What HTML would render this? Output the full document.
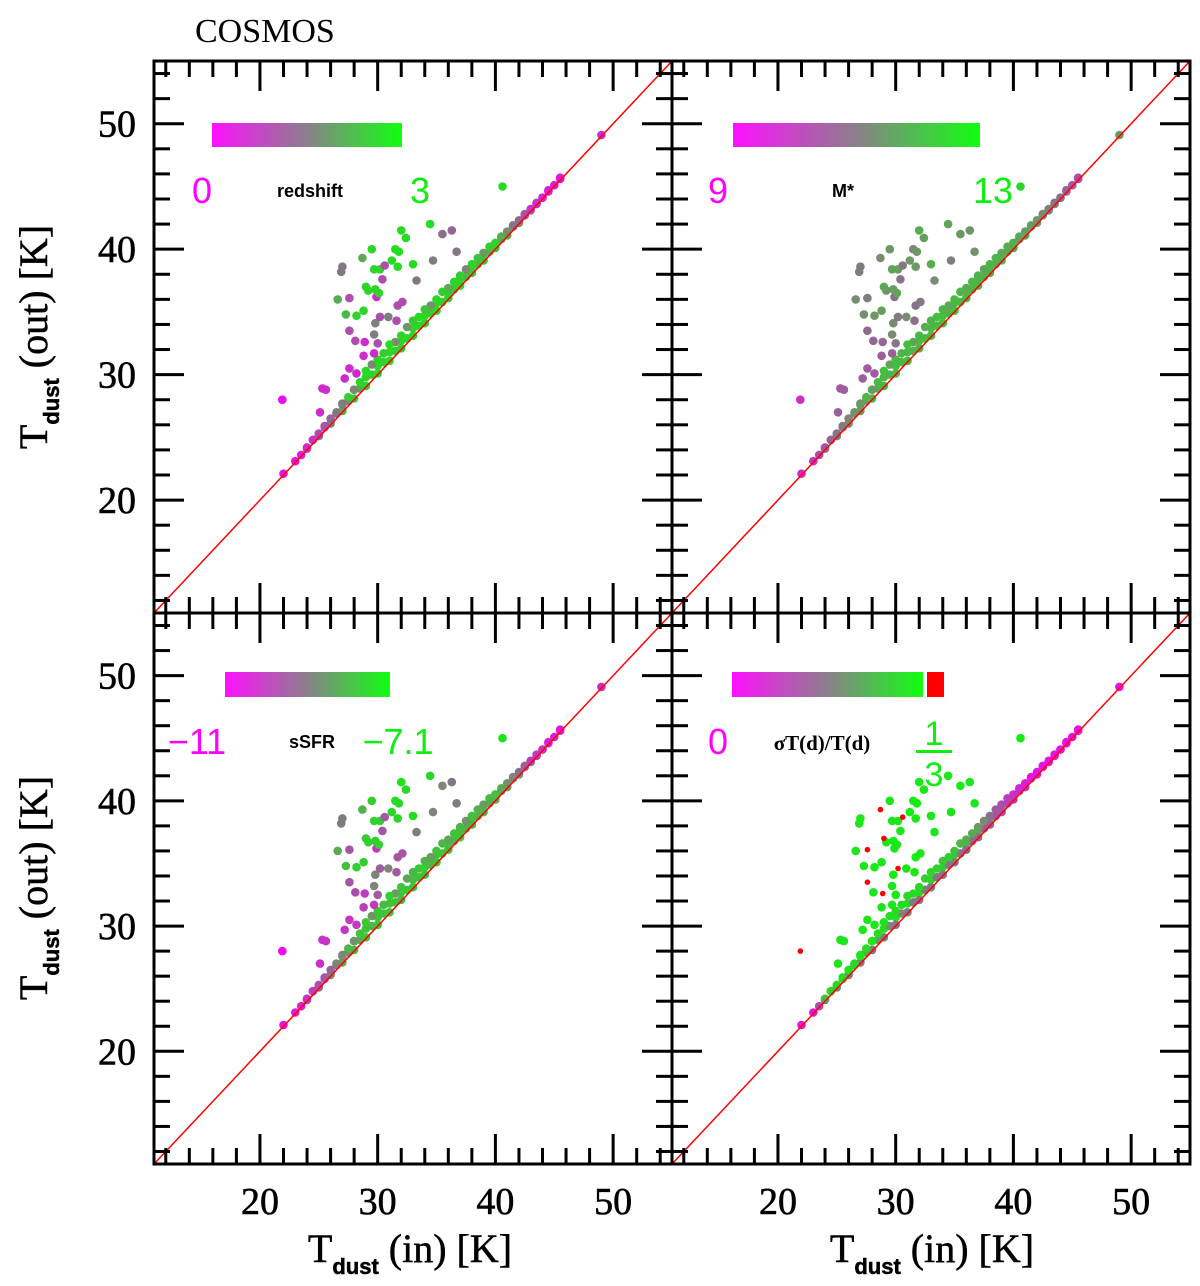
<!DOCTYPE html>
<html><head><meta charset="utf-8"><style>
html,body{margin:0;padding:0;background:#fff;width:1200px;height:1286px;overflow:hidden}
svg{display:block}
</style></head><body>
<svg id="fig" width="1200" height="1286" viewBox="0 0 1200 1286" xmlns="http://www.w3.org/2000/svg">
<text x="195" y="42" font-family="Liberation Serif, serif" font-size="34" fill="#000">COSMOS</text>
<g id="marks"></g>
<g id="axes"></g>
<g id="labels"></g>
</svg>
<script>
// ---- data (T_dust in, T_dust out) ----
const tin  = [40.6,34.45,35.5,36.3,32.0,32.4,29.5,31.5,31.8,28.7,27.0,26.9,36.7,34.7,31.2,30.6,29.7,30.2,31.7,33.0,30.4,33.3,29.0,29.2,29.8,30.1,29.9,26.6,27.6,32.1,31.7,28.8,27.3,28.2,30.2,30.9,31.6,29.8,27.6,29.7,28.1,28.9,30.0,29.7,28.8,27.6,28.2,27.2,25.3,25.6,25.1,21.9,
 22,23,23.5,24,24.5,25,25.5,26,26.5,27,27.5,28,28.5,29,29.5,30,30.5,31,31.5,32,32.5,33,33.5,34,34.5,35,35.5,36,36.5,37,37.5,38,38.5,39,39.5,40,40.5,41,41.5,42,42.5,43,43.5,44,44.5,45,45.5,49,
 24,25,26,27,28,29,30,31,32,33,34,35,36,37,38,39,40,41,42,43,44,
 24.5,25.5,26.5,27.5,28.5,29.5,30.5,31.5,32.5,33.5,34.5,35.5,36.5,37.5,38.5,39.5,40.5,41.5,42.5,43.5,44.5,45.5,
 27,28,29,30,31,32,33,34,35,36,37,38,39,40];
const tout = [45.0,42.0,41.2,41.5,41.5,40.9,40.0,40.0,39.8,39.3,38.6,38.2,39.8,39.1,39.1,38.7,38.4,38.4,38.6,38.8,37.6,37.5,37.0,36.7,36.8,36.5,36.2,36.0,36.1,35.8,35.5,35.1,34.8,34.7,34.6,34.6,34.3,34.1,33.5,33.2,32.7,32.6,32.5,31.7,31.5,30.5,30.1,29.7,28.9,28.8,27.0,28.0,
 22.1,23.1,23.6,24.2,24.8,25.3,25.9,26.5,27,27.6,28.2,28.8,29.4,30.3,30.8,31.2,31.7,32.4,32.6,33.1,33.8,34.3,34.6,35.2,35.5,36.0,36.6,36.9,37.4,37.9,38.4,38.8,39.3,39.7,40.2,40.5,41.0,41.4,41.9,42.3,42.7,43.2,43.6,44.1,44.6,45.1,45.6,49.1,
 24.1,25.1,26.1,27.1,28.1,29.1,30.1,31.1,32.1,33.1,34.1,35.1,36.1,37.1,38.1,39.1,40.1,41.1,42.1,43.1,44.1,
 24.8,25.8,26.9,27.9,28.9,30.0,31.0,31.9,32.9,33.9,34.9,35.8,36.8,37.8,38.8,39.8,40.8,41.8,42.8,43.7,44.7,45.7,
 27.7,28.8,29.8,30.7,31.8,32.7,33.7,34.7,35.7,36.6,37.6,38.6,39.6,40.5];
const redshift = [2.6,2.6,1.3,1.2,2.6,2.6,2.5,2.6,2.6,2.0,1.4,1.4,1.4,1.5,2.6,0.9,2.5,2.5,2.6,2.6,0.9,1.4,2.5,2.5,2.5,2.5,0.5,2.0,0.9,0.9,0.9,2.5,2.2,2.5,0.9,1.5,0.9,1.5,0.9,1.5,0.9,0.5,0.9,0.5,0.5,0.5,0.5,0.5,0.5,0.5,0.5,0.1,
 0.2,0.2,0.3,0.5,0.6,0.8,1.0,1.2,1.4,1.5,2.4,1.6,2.5,2.6,1.6,2.5,2.4,2.6,1.6,2.5,1.8,2.4,2.6,2.3,1.7,2.5,2.4,2.0,2.5,2.4,1.6,2.5,2.3,1.8,2.4,2.5,2.0,1.6,1.4,1.2,0.9,0.6,0.5,0.4,0.3,0.3,0.2,0.5,
 0.9,1.2,1.5,2.0,2.4,2.5,2.5,2.6,2.4,2.5,2.5,2.6,2.5,2.5,2.4,2.4,2.3,2.0,1.6,1.2,1.0,
 0.5,0.8,1.2,1.5,2.0,2.4,2.5,2.5,2.6,2.5,2.4,2.5,2.4,2.3,2.2,2.0,1.8,1.5,1.2,0.9,0.6,0.4,
 1.5,2.2,2.5,2.6,2.5,2.6,2.5,2.6,2.5,2.4,2.5,2.4,2.3,2.2];
const mass = [12.3,11.6,11.4,11.3,11.7,11.5,11.4,11.2,11.5,11.2,11.0,11.0,11.3,11.0,11.4,10.9,11.6,11.5,11.4,11.7,10.8,11.2,11.6,11.3,11.5,11.6,10.7,11.2,10.9,10.9,10.8,11.5,11.3,11.4,10.9,11.2,10.8,11.2,10.7,11.2,10.6,10.6,10.8,10.5,10.5,10.4,10.4,10.5,10.4,10.4,10.5,9.7,
 9.6,9.8,10.2,10.4,10.6,10.8,11.0,11.1,11.3,11.4,11.8,11.5,11.9,12.0,11.6,11.9,11.8,12.0,11.6,11.9,11.7,11.8,12.0,11.8,11.6,12.0,11.8,11.7,11.9,11.8,11.6,11.9,11.8,11.6,11.7,11.8,11.6,11.5,11.4,11.3,11.2,11.0,10.9,10.7,10.5,10.4,10.2,11.4,
 10.8,11.0,11.2,11.4,11.8,11.9,11.9,12.0,11.8,11.9,12.0,12.0,11.9,11.9,11.8,11.8,11.7,11.6,11.4,11.2,11.0,
 10.5,10.8,11.0,11.3,11.6,11.8,11.9,11.9,12.0,11.9,11.8,11.9,11.8,11.7,11.6,11.5,11.3,11.1,10.9,10.7,10.5,10.3,
 11.4,11.7,11.9,12.0,11.9,12.0,11.9,12.0,11.8,11.8,11.9,11.7,11.6,11.6];
const ssfr = [-7.5,-7.7,-9.0,-9.2,-7.6,-7.7,-7.8,-7.6,-7.7,-8.3,-9.1,-9.1,-9.1,-9.0,-7.7,-9.7,-7.8,-7.8,-7.7,-7.6,-9.7,-9.1,-7.9,-7.8,-7.8,-7.8,-10.2,-8.4,-9.7,-9.7,-9.6,-7.9,-8.1,-7.8,-9.6,-9.0,-9.6,-9.0,-9.7,-9.0,-9.8,-10.1,-9.6,-10.1,-10.0,-10.2,-10.1,-10.2,-10.2,-10.2,-10.3,-10.9,
 -10.8,-10.6,-10.5,-10.2,-10.1,-9.9,-9.6,-9.4,-9.0,-8.9,-8.2,-8.7,-8.0,-7.9,-8.7,-8.0,-8.2,-7.8,-8.6,-8.0,-8.5,-8.2,-7.9,-8.3,-8.6,-8.0,-8.2,-8.5,-8.0,-8.2,-8.7,-8.0,-8.3,-8.6,-8.2,-8.0,-8.4,-8.8,-9.0,-9.3,-9.6,-10.1,-10.2,-10.3,-10.5,-10.5,-10.7,-10.3,
 -9.7,-9.4,-9.0,-8.5,-8.2,-8.0,-8.0,-7.9,-8.2,-8.0,-8.0,-7.9,-8.0,-8.0,-8.2,-8.2,-8.3,-8.6,-8.8,-9.2,-9.5,
 -10.3,-10.0,-9.5,-9.0,-8.5,-8.2,-8.0,-8.0,-7.9,-8.0,-8.2,-8.0,-8.2,-8.3,-8.4,-8.5,-8.8,-9.0,-9.4,-9.7,-10.2,-10.5,
 -9.0,-8.3,-8.0,-7.9,-8.0,-7.9,-8.0,-7.8,-8.0,-8.2,-8.0,-8.2,-8.3,-8.4];
const sigma = [0.31,0.30,0.31,0.30,0.31,0.30,0.30,0.31,0.31,0.34,0.30,0.30,0.30,0.30,0.31,0.34,0.30,0.30,0.31,0.30,0.30,0.30,0.34,0.30,0.31,0.30,0.30,0.30,0.34,0.30,0.31,0.30,0.30,0.31,0.34,0.30,0.30,0.31,0.34,0.30,0.30,0.34,0.31,0.30,0.30,0.30,0.30,0.31,0.30,0.30,0.30,0.40,
 0.02,0.03,0.10,0.25,0.28,0.29,0.29,0.30,0.29,0.30,0.29,0.30,0.29,0.30,0.29,0.28,0.29,0.28,0.29,0.28,0.27,0.28,0.27,0.26,0.27,0.25,0.24,0.22,0.22,0.20,0.18,0.15,0.12,0.10,0.08,0.06,0.05,0.04,0.03,0.03,0.02,0.02,0.02,0.02,0.02,0.02,0.02,0.02,
 0.14,0.15,0.16,0.15,0.15,0.16,0.15,0.16,0.15,0.16,0.15,0.16,0.14,0.13,0.12,0.10,0.08,0.06,0.05,0.04,0.03,
 0.20,0.22,0.22,0.20,0.20,0.18,0.17,0.16,0.16,0.15,0.15,0.14,0.13,0.12,0.10,0.08,0.06,0.05,0.04,0.03,0.02,0.02,
 0.30,0.30,0.29,0.30,0.29,0.29,0.28,0.28,0.27,0.26,0.25,0.24,0.22,0.20];
const xTicks = [20,30,40,50];
const yTicks = [20,30,40,50];

// ---- geometry ----
const TMIN=11, TMAX=55;
const panels = [
 {name:'redshift', x0:154, x1:672, y0:61, y1:613, vals:redshift, lo:0, hi:3, lx:false},
 {name:'stellar-mass', x0:672, x1:1190, y0:61, y1:613, vals:mass, lo:9, hi:13, lx:false},
 {name:'ssfr', x0:154, x1:672, y0:613, y1:1164, vals:ssfr, lo:-11, hi:-7.1, lx:true},
 {name:'sigma-tdust', x0:672, x1:1190, y0:613, y1:1164, vals:sigma, lo:0, hi:1/3, lx:true, red:true}
];
function sx(p,t){return p.x0+(t-TMIN)/(TMAX-TMIN)*(p.x1-p.x0);}
function sy(p,t){return p.y1-(t-TMIN)/(TMAX-TMIN)*(p.y1-p.y0);}
function cmap(f){f=Math.max(0,Math.min(1,f));const r=Math.round(255*(1-f)*0.97+ (f>0.5?20*(1-f):0)),g=Math.round(255*f),b=Math.round(255*(1-f)*0.97);return `rgb(${r},${g},${b})`;}
const NS='http://www.w3.org/2000/svg';
function el(tag,attrs,parent){const e=document.createElementNS(NS,tag);for(const k in attrs)e.setAttribute(k,attrs[k]);parent.appendChild(e);return e;}
const marks=document.getElementById('marks'), axes=document.getElementById('axes'), labels=document.getElementById('labels');

panels.forEach((p,pi)=>{
  const g=el('g',{},marks);
  
  
  const order=[];for(let i=tin.length-1;i>=0;i--)order.push(i);
  order.forEach(i=>{
    const v=p.vals[i];let col,r=4.3;
    if(p.red && v>p.hi){col='#f00';r=2.8;} else col=cmap((v-p.lo)/(p.hi-p.lo));
    const c=el('circle',{cx:sx(p,tin[i]).toFixed(1),cy:sy(p,tout[i]).toFixed(1),r:r,fill:col},g);
    
    
  });
  const ln=el('line',{x1:sx(p,TMIN),y1:sy(p,TMIN),x2:sx(p,TMAX),y2:sy(p,TMAX),stroke:'#f00','stroke-width':1.5},marks);
  
  
  const fr=el('rect',{x:p.x0,y:p.y0,width:p.x1-p.x0,height:p.y1-p.y0,fill:'none',stroke:'#000','stroke-width':3},axes);
  
  
  for(let t=12;t<=54;t+=2){
    const maj=(t%10===0), L=maj?30:16;
    const x=sx(p,t), y=sy(p,t);
    el('line',{x1:x,y1:p.y1,x2:x,y2:p.y1-L,stroke:'#000','stroke-width':3},axes);
    el('line',{x1:x,y1:p.y0,x2:x,y2:p.y0+L,stroke:'#000','stroke-width':3},axes);
    el('line',{x1:p.x0,y1:y,x2:p.x0+L,y2:y,stroke:'#000','stroke-width':3},axes);
    el('line',{x1:p.x1,y1:y,x2:p.x1-L,y2:y,stroke:'#000','stroke-width':3},axes);
  }
  if(pi%2===0){
    yTicks.forEach(t=>{
      const tx=el('text',{x:p.x0-18,y:sy(p,t)+13,'text-anchor':'end','font-family':'Liberation Serif, serif','font-size':38,'stroke':'#000','stroke-width':0.6},labels);
      tx.textContent=t;
      
      
    });
  }
  if(p.lx){
    xTicks.forEach(t=>{
      const tx=el('text',{x:sx(p,t),y:1214,'text-anchor':'middle','font-family':'Liberation Serif, serif','font-size':38,'stroke':'#000','stroke-width':0.6},labels);
      tx.textContent=t;
      
      
    });
  }
});
</script>
<div style="position:absolute;left:0;top:0;width:1200px;height:1286px;pointer-events:none">
<svg width="1200" height="1286" style="position:absolute;left:0;top:0">
 <defs>
  <linearGradient id="cg" x1="0" x2="1"><stop offset="0" stop-color="#ff10ff"/><stop offset="0.5" stop-color="#8a808a"/><stop offset="1" stop-color="#10ff10"/></linearGradient>
 </defs>
 <rect x="212" y="123" width="190" height="24" fill="url(#cg)"/>
 <rect x="733" y="123" width="247" height="24" fill="url(#cg)"/>
 <rect x="225" y="672" width="165" height="25" fill="url(#cg)"/>
 <rect x="732" y="672" width="191" height="25" fill="url(#cg)"/>
 <rect x="927" y="672" width="17" height="25" fill="#f00"/>
 <g font-family="Liberation Sans, sans-serif" font-size="36">
  <text x="202" y="203" text-anchor="middle" fill="#ff00ff">0</text>
  <text x="420" y="203" text-anchor="middle" fill="#10ee10">3</text>
  <text x="718" y="203" text-anchor="middle" fill="#ff00ff">9</text>
  <text x="993" y="203" text-anchor="middle" fill="#10ee10">13</text>
  <text x="197" y="754" text-anchor="middle" fill="#ff00ff">−11</text>
  <text x="398" y="754" text-anchor="middle" fill="#10ee10">−7.1</text>
  <text x="718" y="754" text-anchor="middle" fill="#ff00ff">0</text>
  <text x="934" y="745" text-anchor="middle" fill="#10ee10" font-size="34">1</text>
  <rect x="916" y="750" width="36" height="3" fill="#10ee10"/>
  <text x="934" y="786" text-anchor="middle" fill="#10ee10" font-size="34">3</text>
 </g>
 <g font-family="Liberation Sans, sans-serif" font-size="18" font-weight="bold">
  <text x="310" y="197" text-anchor="middle">redshift</text>
  <text x="843" y="197" text-anchor="middle">M*</text>
  <text x="312" y="748" text-anchor="middle">sSFR</text>
  <text x="822" y="750" text-anchor="middle" font-size="21" font-family="Liberation Serif, serif">σT(d)/T(d)</text>
 </g>
 <g font-family="Liberation Serif, serif" font-size="40" stroke="#000" stroke-width="0.5">
  <text x="410" y="1262" text-anchor="middle">T<tspan font-size="22" font-family="Liberation Sans, sans-serif" font-weight="bold" dy="12">dust</tspan><tspan dy="-12">  (in)  [K]</tspan></text>
  <text x="932" y="1262" text-anchor="middle">T<tspan font-size="22" font-family="Liberation Sans, sans-serif" font-weight="bold" dy="12">dust</tspan><tspan dy="-12">  (in)  [K]</tspan></text>
  <text transform="translate(47,337) rotate(-90)" text-anchor="middle">T<tspan font-size="22" font-family="Liberation Sans, sans-serif" font-weight="bold" dy="12">dust</tspan><tspan dy="-12">  (out)  [K]</tspan></text>
  <text transform="translate(47,888) rotate(-90)" text-anchor="middle">T<tspan font-size="22" font-family="Liberation Sans, sans-serif" font-weight="bold" dy="12">dust</tspan><tspan dy="-12">  (out)  [K]</tspan></text>
 </g>
</svg>
</div>
</body></html>
